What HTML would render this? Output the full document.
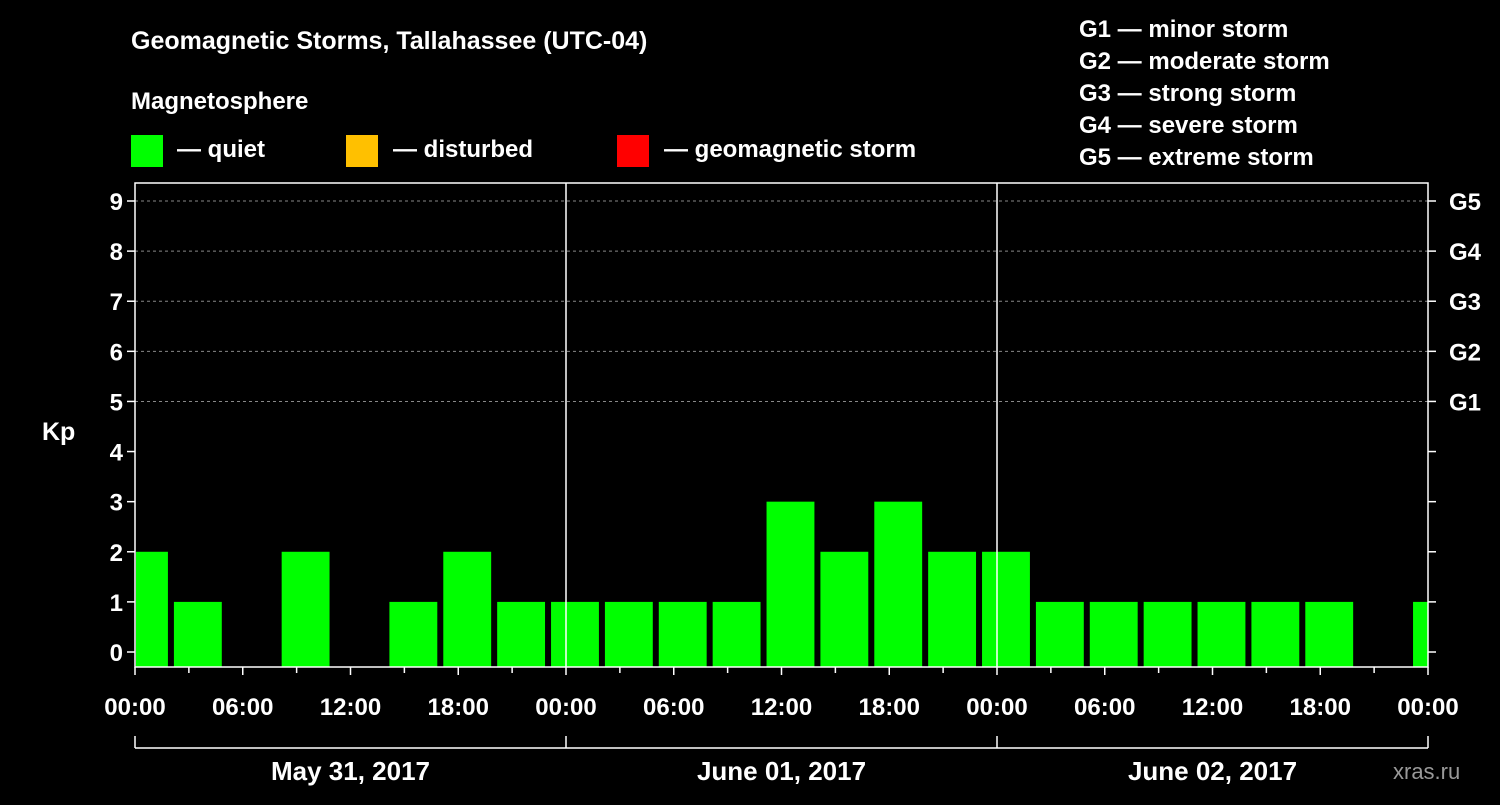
<!DOCTYPE html>
<html><head><meta charset="utf-8"><style>
body{margin:0;background:#000;width:1500px;height:800px;overflow:hidden}
svg text{font-family:"Liberation Sans",Arial,sans-serif;font-weight:bold;fill:#fff}
</style></head><body>
<svg id="c" width="1500" height="800">
<rect width="1500" height="800" fill="#000"/>
<text x="131" y="49" font-size="25">Geomagnetic Storms, Tallahassee (UTC-04)</text>
<text x="131" y="109" font-size="24">Magnetosphere</text>
<g><rect x="131" y="135" width="32" height="32" fill="#00ff00"/><text x="177" y="157" font-size="24">— quiet</text></g>
<g><rect x="346" y="135" width="32" height="32" fill="#ffc000"/><text x="393" y="157" font-size="24">— disturbed</text></g>
<g><rect x="617" y="135" width="32" height="32" fill="#ff0000"/><text x="664" y="157" font-size="24">— geomagnetic storm</text></g>
<g font-size="24">
<text x="1079" y="37">G1 — minor storm</text>
<text x="1079" y="69">G2 — moderate storm</text>
<text x="1079" y="101">G3 — strong storm</text>
<text x="1079" y="133">G4 — severe storm</text>
<text x="1079" y="165">G5 — extreme storm</text>
</g>
<text x="42" y="440" font-size="25">Kp</text>
<text x="1393" y="779" font-size="22" fill="#888" style="fill:#999;font-weight:normal">xras.ru</text>
<g id="grid"></g><g id="bars"></g><g id="axes"></g>
</svg>
<script>
const kpValues=[2,1,0,2,0,1,2,1,1,1,1,1,3,2,3,2,2,1,1,1,1,1,1,0,1];
const yTicks=[0,1,2,3,4,5,6,7,8,9];
const gLabels=["G1","G2","G3","G4","G5"];
const xTickLabels=["00:00","06:00","12:00","18:00","00:00","06:00","12:00","18:00","00:00","06:00","12:00","18:00","00:00"];
const dayLabels=["May 31, 2017","June 01, 2017","June 02, 2017"];
const startHour=-1, stepHours=3;
const L=135,R=1428,T=183,B=667,hoursTotal=72;
const x=h=>L+(h/hoursTotal)*(R-L);
const y=v=>652-v*(652-201)/9;
const NS="http://www.w3.org/2000/svg";
function mk(tag,attrs,parent,txt){const e=document.createElementNS(NS,tag);for(const k in attrs)e.setAttribute(k,attrs[k]);if(txt!==undefined)e.textContent=txt;parent.appendChild(e);return e;}
const grid=document.getElementById('grid'),bars=document.getElementById('bars'),axes=document.getElementById('axes');
yTicks.forEach(v=>{
  if(v>=5){const g=mk('line',{x1:L,x2:R,y1:y(v),y2:y(v),stroke:'#888','stroke-dasharray':'3,3','stroke-width':1},grid);
  
  }
  const t=mk('line',{x1:L-8,x2:L,y1:y(v),y2:y(v),stroke:'#fff','stroke-width':1.5},axes);
  
  
  const t2=mk('line',{x1:R,x2:R+8,y1:y(v),y2:y(v),stroke:'#fff','stroke-width':1.5},axes);
  
  
  const lb=mk('text',{x:L-12,y:y(v)+9,'font-size':24,'text-anchor':'end'},axes,String(v));
  
  
  if(v>=5){const gl=mk('text',{x:R+21,y:y(v)+9,'font-size':24},axes,gLabels[v-5]);
  
  }
});
kpValues.forEach((v,i)=>{
  if(v<=0)return;
  const h0=startHour+i*stepHours;
  let x0=x(h0)+3,x1=x(h0+stepHours)-3;
  x0=Math.max(x0,L+1);x1=Math.min(x1,R);
  const b=mk('rect',{x:x0,y:y(v),width:x1-x0,height:B-y(v),fill:v>=5?'#ff0000':(v>=4?'#ffc000':'#00ff00')},bars);
  
  
});
const fr=mk('rect',{x:L,y:T,width:R-L,height:B-T,fill:'none',stroke:'#fff','stroke-width':1.5},axes);


[24,48].forEach(h=>{const d=mk('line',{x1:x(h),x2:x(h),y1:T,y2:B,stroke:'#fff','stroke-width':1.5},axes);

});
for(let h=0;h<=72;h+=3){const t=mk('line',{x1:x(h),x2:x(h),y1:B,y2:B+(h%6===0?8:6),stroke:'#fff','stroke-width':1.5},axes);

}
xTickLabels.forEach((s,i)=>{const t=mk('text',{x:x(i*6),y:715,'font-size':24,'text-anchor':'middle'},axes,s);

});
const br=mk('line',{x1:L,x2:R,y1:748,y2:748,stroke:'#fff','stroke-width':1.5},axes);


[0,24,48,72].forEach(h=>{const t=mk('line',{x1:x(h),x2:x(h),y1:736,y2:748,stroke:'#fff','stroke-width':1.5},axes);

});
dayLabels.forEach((s,i)=>{const t=mk('text',{x:x(i*24+12),y:780,'font-size':26,'text-anchor':'middle'},axes,s);

});
</script>
</body></html>
